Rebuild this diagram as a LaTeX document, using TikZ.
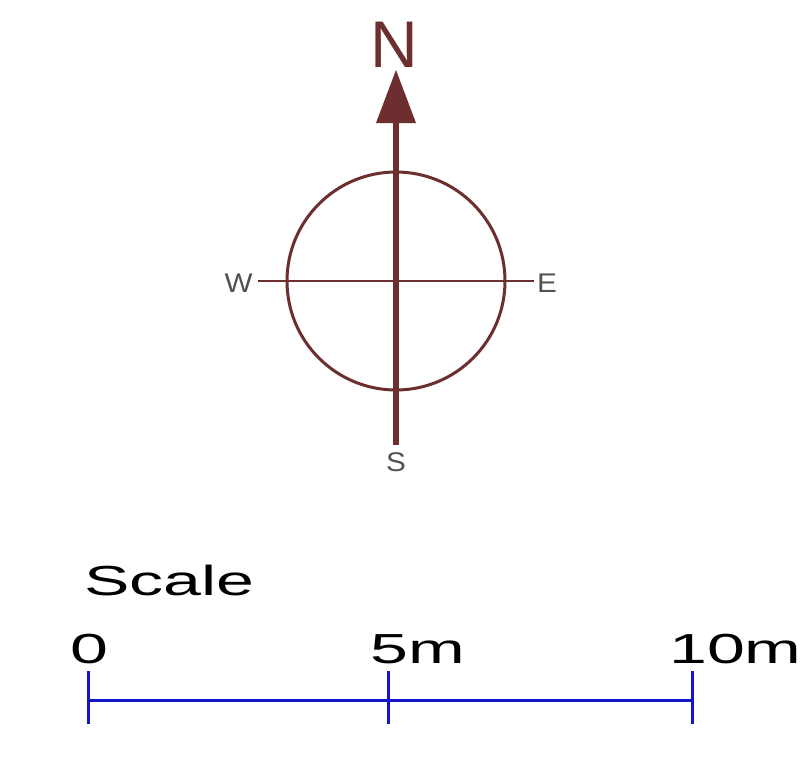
\documentclass[tikz,border=0pt]{standalone}
\usepackage{fontspec}
\setmainfont{Liberation Sans}
\definecolor{compass}{RGB}{108,46,46}
\definecolor{labelgray}{RGB}{85,80,80}
\definecolor{scaleblue}{RGB}{20,20,200}
\begin{document}
\begin{tikzpicture}[x=1pt,y=-1pt,
  dirlabel/.style={inner sep=0pt, text=labelgray, font=\fontsize{27}{30}\selectfont, xscale=1.1},
  scaletext/.style={inner sep=0pt, anchor=base west, text=black, font=\fontsize{42}{50}\selectfont, xscale=1.62},
  bar/.style={draw=scaleblue, line width=3pt},
  tick/.style={draw=scaleblue, line width=3pt}]
\useasboundingbox (0,0) rectangle (812,763);
% compass
\coordinate (ctr) at (396,281);
\coordinate (tip) at (396,70);
\coordinate (base) at (396,122);
\coordinate (bot) at (396,445);
\coordinate (wend) at (258,281);
\coordinate (eend) at (534,281);
\draw[compass, line width=3pt] (ctr) circle[radius=109];
\draw[compass, line width=2pt] (wend) -- (eend);
\draw[compass, line width=6pt] (base) -- (bot);
\fill[compass] (tip) -- (376,123) -- (416,123) -- cycle;
\node[inner sep=0pt, anchor=base, text=compass, font=\fontsize{66}{70}\selectfont] (N) at (394,67) {N};
\node[dirlabel, anchor=east] (W) at (253,283) {W};
\node[dirlabel, anchor=west] (E) at (537,283) {E};
\node[dirlabel, anchor=north] (S) at (396,452) {S};
% scale
\node[scaletext] (scl) at (84,595) {Scale};
\node[scaletext] (z) at (70,663) {0};
\node[scaletext] (f) at (370,663) {5m};
\node[scaletext] (t) at (669,663) {10m};
\coordinate (a1) at (88,671); \coordinate (a2) at (88,724);
\coordinate (b1) at (388,671); \coordinate (b2) at (388,724);
\coordinate (c1) at (692,671); \coordinate (c2) at (692,724);
\coordinate (la) at (88,700); \coordinate (lc) at (692,700);
\draw[bar] (la) -- (lc);
\draw[tick] (a1) -- (a2);
\draw[tick] (b1) -- (b2);
\draw[tick] (c1) -- (c2);
\end{tikzpicture}
\end{document}
